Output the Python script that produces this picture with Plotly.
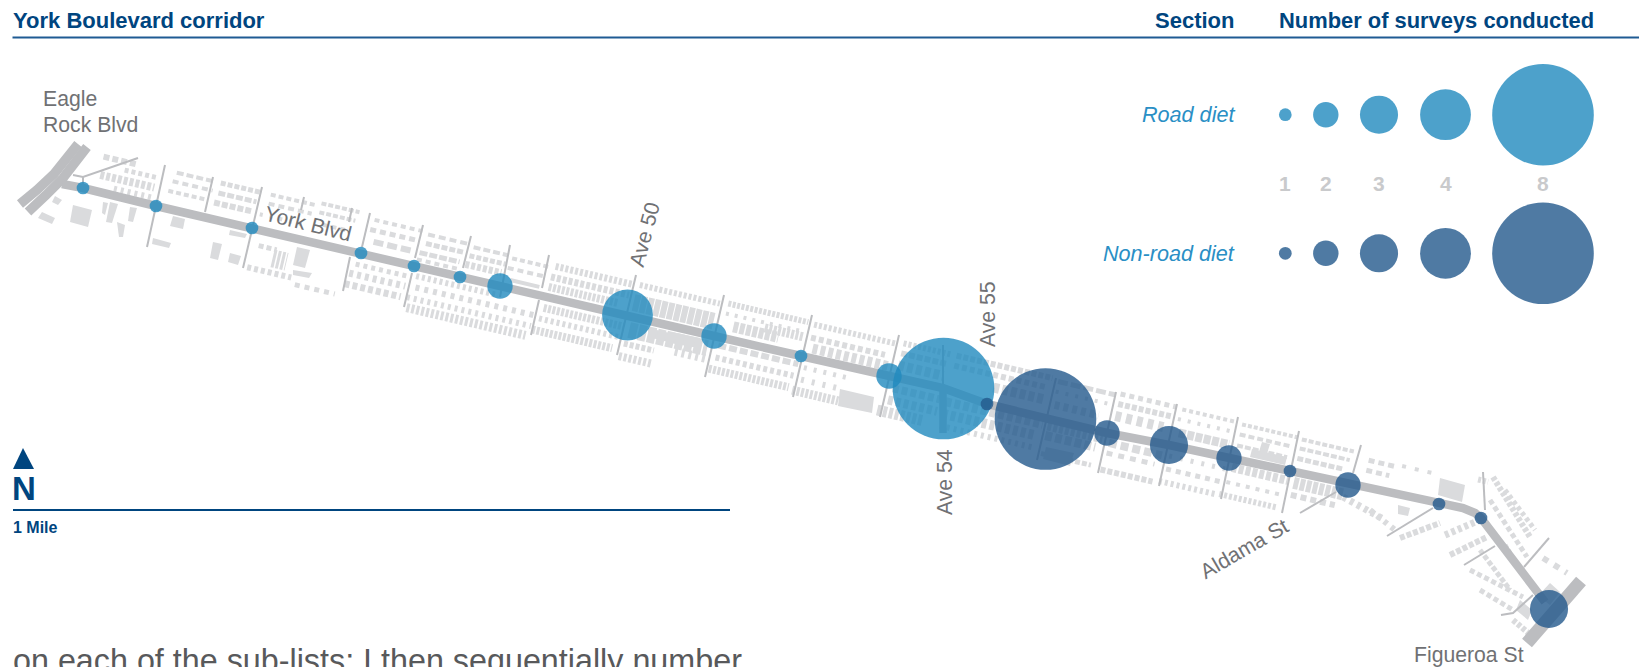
import plotly.graph_objects as go

# --- chart values -----------------------------------------------------------
section_x = [83, 156, 252, 361, 414, 460, 500, 627.5, 714, 801, 889, 943.5,
             987, 1045.5, 1107, 1169, 1229, 1290, 1348, 1439, 1481, 1549]
section_y = [188, 206, 228, 253, 266, 277, 286, 315, 336, 356, 376, 388.5,
             404, 419, 433, 445, 458, 471, 485, 504, 518, 609]
section_surveys = [1, 1, 1, 1, 1, 1, 2, 4, 2, 1, 2, 8,
                   1, 8, 2, 3, 2, 1, 2, 1, 1, 3]
section_kind = ["road"] * 12 + ["non"] * 10

legend_counts = [1, 2, 3, 4, 8]
legend_x = [1285.3, 1325.8, 1379, 1445.5, 1543]
legend_road_y = 114.7
legend_non_y = 253.3

# --- base-map geometry (map units equal page pixels) ------------------------
york_blvd = [(62, 184), (83, 188), (156, 206), (252, 228), (361, 253), (414, 266), (460, 277),
             (500, 286), (627, 315), (714, 336), (801, 356), (889, 376), (943, 388), (987, 404),
             (1045, 419), (1107, 433), (1169, 445), (1229, 458), (1290, 471), (1348, 485),
             (1439, 503), (1463, 508), (1475, 513), (1481, 518), (1545, 602)]
ave_54 = [(943, 387), (943, 433)]
figueroa = [(1581, 581), (1527, 643)]
eagle_a = [(78, 144), (67, 158), (54, 174), (37, 190), (20, 204)]
eagle_b = [(87, 147), (76, 161), (63, 178), (46, 195), (28, 212)]

streets = [
    [(138, 158), (83, 177), (73, 175)], [(83, 177), (83, 188)],
    [(165, 165), (147, 247)], [(213, 177), (205, 212)], [(262, 187), (243, 268)],
    [(304, 197), (301, 210)], [(352, 208), (349, 222)], [(350, 257), (343, 291)],
    [(370, 213), (362, 247)], [(423, 225), (415, 258)], [(412, 273), (404, 307)],
    [(471, 236), (463, 268)], [(510, 245), (500, 297)], [(549, 255), (542, 288)],
    [(539, 300), (531, 335)], [(636, 275), (617, 355)], [(724, 295), (705, 377)],
    [(812, 315), (793, 397)], [(899, 335), (880, 417)], [(943, 345), (943, 387)],
    [(1056, 378), (1037, 460)], [(1116, 392), (1098, 473)], [(1177, 404), (1159, 486)],
    [(1238, 417), (1221, 499)], [(1299, 431), (1282, 513)], [(1361, 445), (1353, 473)],
    [(1336, 492), (1300, 513)], [(1433, 508), (1387, 536)], [(1483, 472), (1485, 510)],
    [(1495, 546), (1464, 565)], [(1549, 538), (1524, 567)], [(1533, 595), (1513, 613), (1501, 615)],
]

# rows of houses: start and end along the road, offset from the road, thickness, dash
house_rows = [
    (95, 128, -36, 6, "6px,3px"), (96, 150, -18, 8, "4px,2px"), (112, 150, -8, 6, "3px,4px"), (118, 150, -28, 5, "4px,3px"),
    (168, 206, -37, 4, "7px,3px"), (166, 206, -28, 4, "6px,4px"), (164, 200, -18, 4, "5px,3px"),
    (212, 252, -37, 5, "5px,2px"), (212, 250, -27, 5, "7px,2px"), (210, 248, -17, 6, "6px,2px"),
    (262, 308, -37, 4, "5px,3px"), (262, 305, -28, 4, "6px,4px"), (256, 300, -16, 4, "3px,7px"),
    (312, 350, -40, 4, "5px,2px"), (312, 348, -31, 4, "5px,2px"), (318, 345, -20, 4, "5px,4px"),
    (366, 414, -36, 4, "5px,4px"), (364, 412, -26, 5, "6px,4px"), (370, 408, -15, 6, "10px,4px"),
    (420, 460, -34, 4, "7px,4px"), (420, 458, -25, 5, "6px,2px"), (416, 456, -15, 5, "8px,2px"), (415, 455, -8, 4, "5px,4px"),
    (466, 500, -32, 4, "7px,3px"), (464, 500, -23, 5, "5px,2px"), (462, 498, -14, 7, "4px,2px"),
    (505, 541, -30, 4, "5px,3px"), (503, 540, -20, 4, "6px,4px"), (508, 538, -9, 4, "30px,4px"),
    (548, 626, -32, 7, "3px,2px"), (546, 624, -21, 7, "4px,2px"), (546, 615, -11, 8, "3px,1.5px"),
    (632, 712, -33, 6, "3px,2px"), (630, 710, -15, 17, "6px,1px"),
    (720, 800, -35, 6, "3px,1.5px"), (720, 798, -25, 4, "3px,6px"), (730, 775, -14, 11, "5px,1.5px"), (760, 798, -20, 9, "3px,1.5px"),
    (806, 888, -34, 6, "3px,2px"), (806, 880, -21, 6, "5px,3px"), (810, 886, -11, 10, "5px,3px"),
    (895, 942, -36, 6, "3px,2px"), (895, 940, -26, 6, "6px,2px"), (895, 940, -14, 10, "6px,3px"),
    (948, 1044, -36, 6, "5px,2px"), (948, 1040, -26, 6, "5px,3px"), (990, 1042, -14, 10, "6px,3px"),
    (1050, 1107, -34, 5, "10px,3px"), (1050, 1104, -24, 4, "3px,7px"), (1052, 1096, -11, 8, "5px,4px"),
    (1112, 1168, -36, 5, "5px,4px"), (1112, 1166, -26, 6, "5px,2px"), (1112, 1160, -14, 10, "6px,5px"),
    (1174, 1229, -35, 4, "4px,3px"), (1172, 1226, -25, 4, "3px,7px"), (1176, 1226, -12, 9, "7px,1.5px"),
    (1234, 1290, -34, 4, "4px,2px"), (1234, 1286, -24, 4, "6px,3px"), (1234, 1284, -13, 4, "6px,2px"),
    (1294, 1346, -33, 4, "5px,2px"), (1294, 1344, -24, 4, "6px,2px"), (1294, 1340, -14, 5, "6px,2px"),
    (1362, 1390, -28, 5, "6px,4px"), (1362, 1385, -18, 5, "6px,4px"), (1395, 1430, -30, 4, "4px,9px"), (1470, 1480, -34, 6, "3px,2px"),
    (262, 280, 14, 5, "5px,3px"), (278, 292, 23, 18, "3px,1.5px"), (256, 300, 37, 6, "4px,3px"), (305, 345, 43, 5, "5px,5px"),
    (358, 412, 10, 5, "4px,4px"), (354, 410, 20, 7, "4px,4px"), (352, 408, 31, 7, "5px,3px"),
    (418, 500, 8, 6, "3px,3px"), (420, 540, 19, 6, "4px,5px"), (414, 538, 30, 6, "3px,4px"), (416, 535, 40, 9, "3px,2px"),
    (546, 626, 10, 8, "3px,1.5px"), (544, 624, 21, 6, "3px,3px"), (540, 620, 33, 8, "3px,1.5px"),
    (632, 710, 12, 16, "8px,1.5px"), (630, 660, 26, 6, "4px,2px"), (680, 712, 22, 9, "3px,4px"), (628, 660, 39, 8, "3px,2px"),
    (720, 800, 7, 6, "8px,3px"), (720, 798, 19, 6, "4px,3px"), (716, 796, 31, 8, "3px,1.5px"),
    (806, 850, 9, 5, "3px,7px"), (806, 848, 21, 6, "3px,8px"), (800, 846, 33, 9, "3px,1.5px"),
    (895, 942, 9, 8, "6px,3px"), (893, 942, 21, 9, "5px,3px"), (885, 930, 33, 11, "4px,2px"),
    (948, 1045, 10, 9, "6px,3px"), (948, 1040, 22, 10, "5px,3px"), (948, 1040, 34, 6, "3px,4px"),
    (1050, 1105, 10, 10, "4px,2px"), (1050, 1100, 20, 9, "7px,3px"), (1050, 1100, 38, 5, "5px,2px"),
    (1112, 1165, 13, 8, "8px,4px"), (1112, 1160, 23, 5, "6px,6px"), (1110, 1162, 40, 6, "5px,2px"),
    (1172, 1228, 12, 5, "3px,8px"), (1172, 1226, 25, 5, "5px,5px"), (1168, 1224, 38, 6, "3px,3px"),
    (1234, 1290, 9, 9, "5px,2px"), (1232, 1288, 24, 4, "4px,6px"), (1228, 1286, 37, 6, "3px,2px"),
    (1296, 1345, 10, 12, "5px,1.5px"), (1296, 1340, 22, 6, "6px,4px"),
]
# rows that follow the bend at the east end of the corridor
bend_rows = [
    (1493, 477, 1530, 537, 6, "4px,2px"), (1490, 500, 1527, 557, 5, "5px,3px"),
    (1505, 490, 1535, 530, 5, "4px,3px"), (1343, 497, 1385, 520, 7, "4px,4px"),
    (1400, 538, 1440, 523, 6, "5px,2px"), (1450, 555, 1487, 537, 6, "5px,2px"),
    (1445, 535, 1480, 520, 7, "4px,3px"), (1470, 570, 1523, 597, 5, "5px,3px"),
    (1480, 590, 1513, 610, 5, "5px,3px"), (1513, 620, 1533, 637, 6, "4px,2px"),
    (1543, 558, 1567, 573, 6, "6px,7px"), (1505, 545, 1520, 570, 5, "4px,2px"),
    (1480, 550, 1510, 590, 5, "5px,2px"), (1370, 510, 1395, 530, 6, "4px,5px"),
]
# larger buildings
buildings = [
    [(73, 205), (92, 210), (88, 227), (70, 222)], [(173, 216), (185, 219), (183, 229), (170, 226)],
    [(153, 238), (171, 243), (169, 248), (152, 244)], [(213, 242), (222, 244), (218, 260), (210, 258)],
    [(230, 253), (241, 256), (238, 265), (228, 262)], [(230, 230), (247, 234), (245, 238), (229, 235)],
    [(42, 212), (55, 218), (52, 224), (38, 218)], [(55, 196), (62, 200), (58, 205), (52, 202)],
    [(103, 202), (108, 203), (105, 215), (102, 213)], [(110, 202), (118, 204), (112, 223), (106, 222)],
    [(130, 207), (137, 208), (133, 222), (128, 221)], [(117, 222), (125, 225), (123, 237), (119, 237)],
    [(297, 247), (310, 250), (305, 268), (293, 265)], [(293, 270), (312, 273), (309, 278), (293, 275)],
    [(648, 328), (670, 333), (668, 342), (648, 337)], [(672, 332), (700, 338), (698, 348), (670, 343)],
    [(840, 389), (874, 397), (872, 413), (838, 406)], [(1440, 478), (1465, 485), (1462, 502), (1438, 495)],
    [(1398, 505), (1410, 508), (1408, 516), (1398, 514)], [(1262, 442), (1270, 444), (1266, 457), (1258, 455)],
    [(1252, 449), (1287, 457), (1285, 465), (1250, 457)], [(1046, 447), (1074, 453), (1070, 466), (1043, 459)],
    [(1550, 583), (1560, 592), (1550, 605), (1538, 596)], [(1520, 600), (1532, 610), (1528, 620), (1516, 610)],
]

north_arrow = [(23, 448), (13, 469), (34, 469)]
scale_bar = [(13, 510), (730, 510)]
header_rule = [(12.5, 37.5), (1639, 37.5)]

labels = [
    ("York Boulevard corridor", 10.5, 20, 22, 0, "left", "bold"),
    ("Section", 1236, 20, 22, 0, "right", "bold"),
    ("Number of surveys conducted", 1277, 20, 21.9, 0, "left", "bold"),
]
map_labels = [
    ("Eagle", 41, 99, 0, "left"), ("Rock Blvd", 41, 124, 0, "left"),
    ("York Blvd", 308, 223, 14, "center"), ("Ave 50", 644, 234, -75, "center"),
    ("Ave 55", 987, 314, -90, "center"), ("Ave 54", 944, 482, -90, "center"),
    ("Aldama St", 1244, 548, -30, "center"), ("Figueroa St", 1469, 655, 0, "center"),
]
body_text = "on each of the sub-lists; I then sequentially number"

# --- styles -----------------------------------------------------------------
ROAD = "#BCBDC0"
STREET = "#BCBDC0"
HOUSE = "#DADBDD"
NAVY = "#00457F"
ROAD_DIET = "#2089BE"
NON_ROAD = "#23598C"
PX_PER_SURVEY = 12.7
FONT = "Liberation Sans"
SLOPE = 0.2333
LEAN = 0.2375


def map_xy(s, t):
    return s - LEAN * t, 185 + SLOPE * (s - 62) + t


fig = go.Figure()


def path(points, color, width, dash="solid"):
    fig.add_trace(go.Scatter(x=[p[0] for p in points], y=[p[1] for p in points], mode="lines",
                             line=dict(color=color, width=width, dash=dash),
                             hoverinfo="skip", showlegend=False))


for b in buildings:
    fig.add_trace(go.Scatter(x=[p[0] for p in b] + [b[0][0]], y=[p[1] for p in b] + [b[0][1]],
                             mode="lines", fill="toself", fillcolor=HOUSE, line=dict(width=0, color=HOUSE),
                             hoverinfo="skip", showlegend=False))
for s0, s1, t, w, d in house_rows:
    path([map_xy(s0, t), map_xy(s1, t)], HOUSE, w, d)
for x0, y0, x1, y1, w, d in bend_rows:
    path([(x0, y0), (x1, y1)], HOUSE, w, d)
for st in streets:
    path(st, STREET, 2)
path(eagle_a, ROAD, 9.5)
path(eagle_b, ROAD, 9.5)
path(figueroa, ROAD, 13)
path(york_blvd, ROAD, 8.5)
path(ave_54, ROAD, 7.5)

for kind, color in (("road", ROAD_DIET), ("non", NON_ROAD)):
    idx = [i for i, k in enumerate(section_kind) if k == kind]
    fig.add_trace(go.Scatter(x=[section_x[i] for i in idx], y=[section_y[i] for i in idx], mode="markers",
                             marker=dict(size=[section_surveys[i] * PX_PER_SURVEY for i in idx], color=color,
                                         opacity=0.8, line=dict(width=0)),
                             customdata=[section_surveys[i] for i in idx], showlegend=False,
                             hovertemplate="%{customdata} surveys<extra></extra>"))
for y, color in ((legend_road_y, ROAD_DIET), (legend_non_y, NON_ROAD)):
    fig.add_trace(go.Scatter(x=legend_x, y=[y] * len(legend_x), mode="markers",
                             marker=dict(size=[c * PX_PER_SURVEY for c in legend_counts], color=color,
                                         opacity=0.8, line=dict(width=0)),
                             hoverinfo="skip", showlegend=False))

path(header_rule, "#1F5B93", 2)
path(scale_bar, NAVY, 2)
fig.add_trace(go.Scatter(x=[p[0] for p in north_arrow] + [north_arrow[0][0]],
                         y=[p[1] for p in north_arrow] + [north_arrow[0][1]], mode="lines", fill="toself",
                         fillcolor=NAVY, line=dict(width=0, color=NAVY), hoverinfo="skip", showlegend=False))

ann = []


def note(text, x, y, size, color, angle=0, anchor="center", weight="normal", style="normal"):
    ann.append(dict(text=text, x=x, y=y, xref="x", yref="y", showarrow=False, textangle=angle, xanchor=anchor,
                    yanchor="middle", font=dict(family=FONT, size=size, color=color, weight=weight, style=style)))


for t, x, y, size, angle, anchor, weight in labels:
    note(t, x, y, size, NAVY, angle, anchor, weight)
for t, x, y, angle, anchor in map_labels:
    note(t, x, y, 21.2, "#707174", angle, anchor)
note("Road diet", 1236.5, legend_road_y, 21.6, "#2A8FC5", 0, "right", style="italic")
note("Non-road diet", 1236.5, legend_non_y, 21.6, "#2A8FC5", 0, "right", style="italic")
for c, x in zip(legend_counts, legend_x):
    note(str(c), x, 183, 21, "#C9CACC", weight="bold")
note("N", 24, 488, 33, NAVY, weight="bold")
note("1 Mile", 11, 527.5, 16, NAVY, anchor="left", weight="bold")
note(body_text, 11, 661, 32.3, "#58595B", anchor="left")

fig.update_layout(
    width=1639, height=667, margin=dict(l=0, r=0, t=0, b=0), autosize=False,
    paper_bgcolor="white", plot_bgcolor="white", annotations=ann, hovermode="closest",
    xaxis=dict(range=[0, 1639], visible=False, fixedrange=True),
    yaxis=dict(range=[667, 0], visible=False, fixedrange=True),
)
fig.write_html("out.html", config=dict(displayModeBar=False),
               post_script="document.body.style.margin='0';document.documentElement.style.overflow='hidden';")
